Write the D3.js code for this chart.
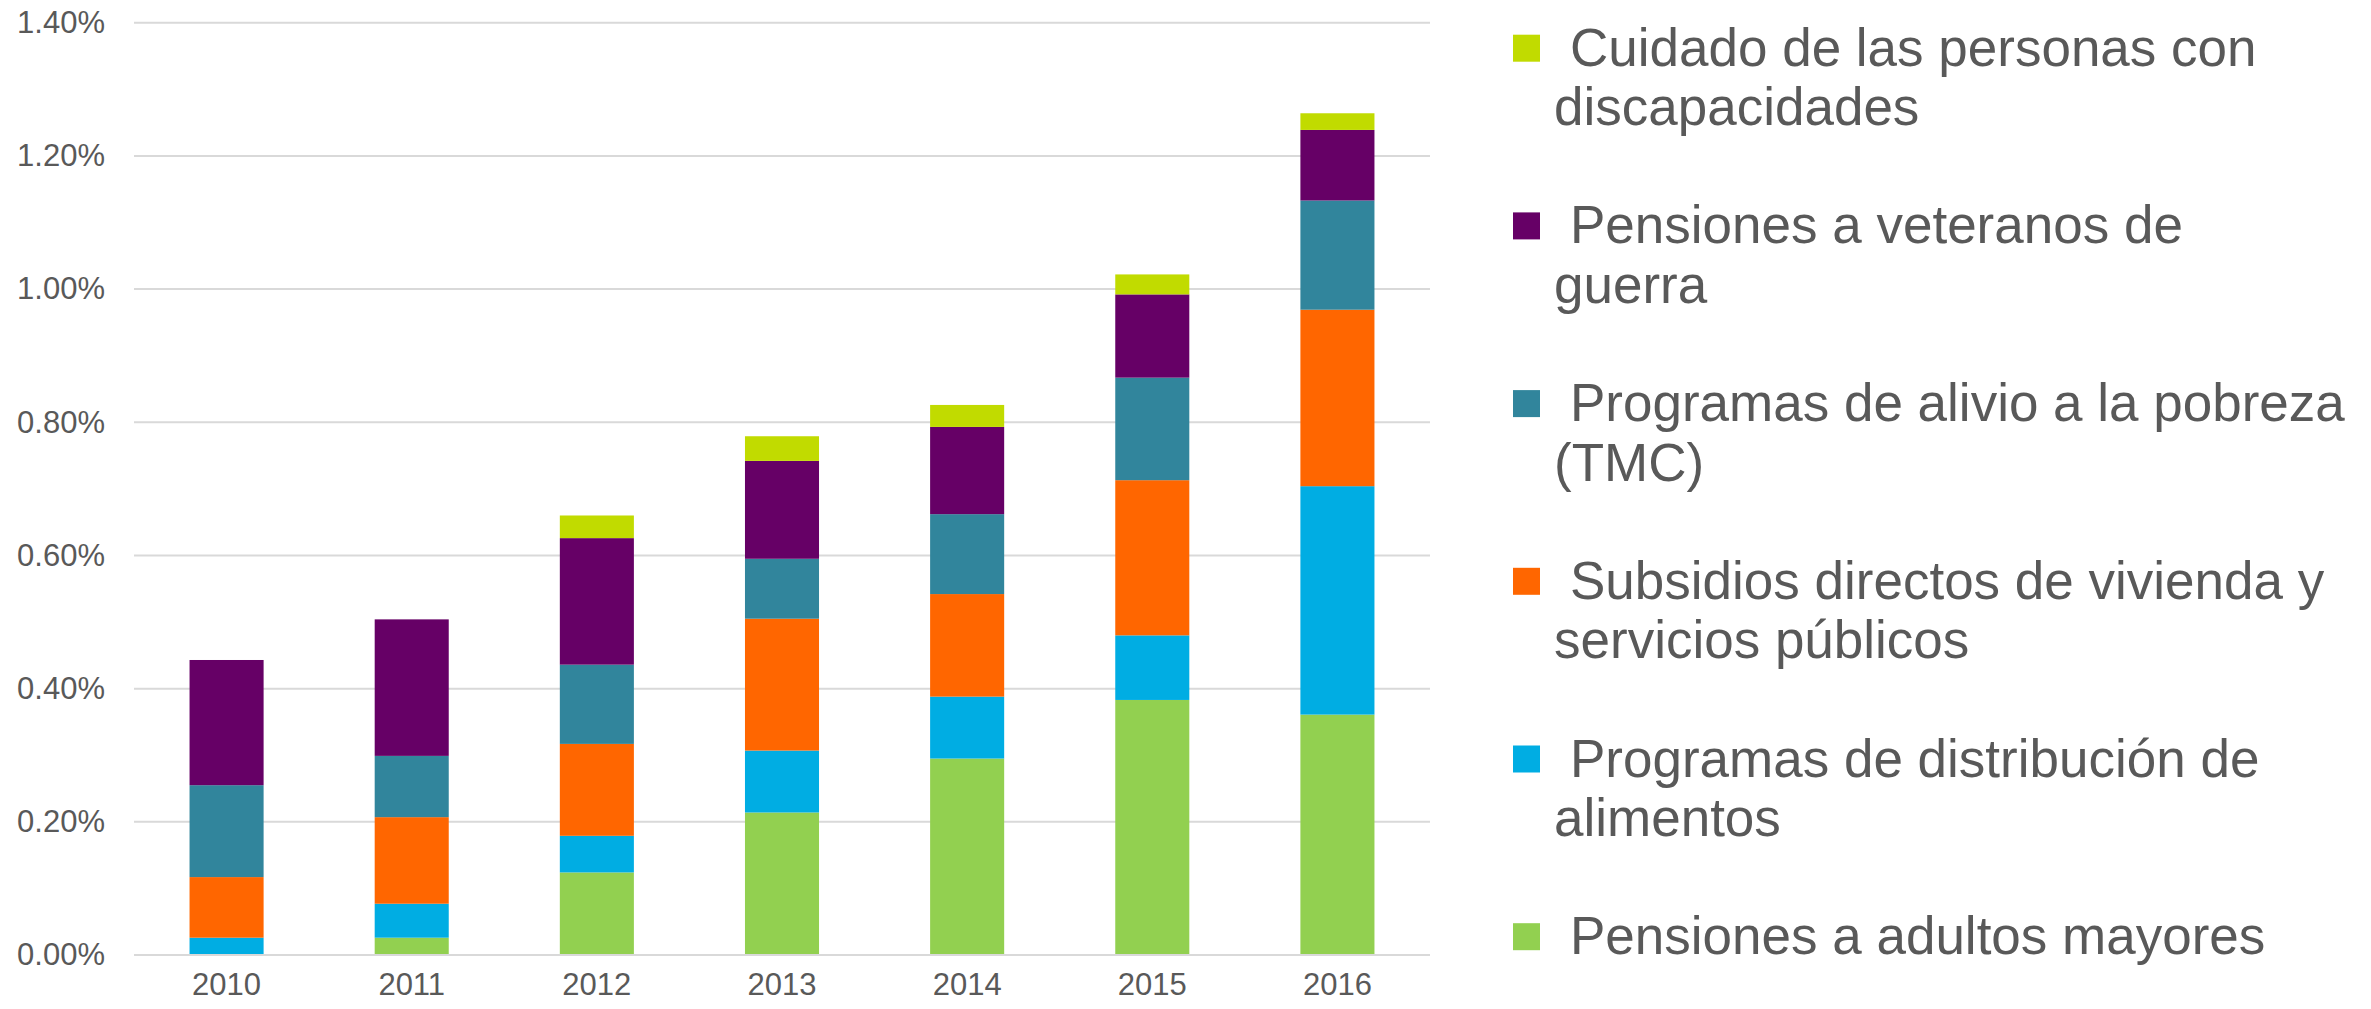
<!DOCTYPE html>
<html>
<head>
<meta charset="utf-8">
<script src="https://cdn.jsdelivr.net/npm/d3@7.9.0/dist/d3.min.js"></script>
<style>
  html, body { margin: 0; padding: 0; background: #fff; }
  svg { display: block; font-family: "Liberation Sans", Arial, sans-serif; }
</style>
</head>
<body>
<div id="chart"></div>
<script>
// data (percent of GDP)
const years = ['2010', '2011', '2012', '2013', '2014', '2015', '2016'];
const adultosMayores = [0, 0.026, 0.124, 0.214, 0.295, 0.383, 0.361];
const distribucionAlimentos = [0.026, 0.051, 0.055, 0.093, 0.093, 0.097, 0.343];
const subsidiosVivienda = [0.091, 0.130, 0.138, 0.198, 0.154, 0.233, 0.265];
const alivioPobreza = [0.138, 0.092, 0.119, 0.090, 0.120, 0.154, 0.164];
const veteranosGuerra = [0.188, 0.205, 0.190, 0.147, 0.131, 0.125, 0.106];
const discapacidades = [0, 0, 0.034, 0.037, 0.033, 0.030, 0.025];
const yTicks = [0, 0.2, 0.4, 0.6, 0.8, 1.0, 1.2, 1.4];

const series = [
  { key: 'adultos', values: adultosMayores, color: '#92D050',
    label: ['Pensiones a adultos mayores'] },
  { key: 'alimentos', values: distribucionAlimentos, color: '#00ADE3',
    label: ['Programas de distribución de', 'alimentos'] },
  { key: 'vivienda', values: subsidiosVivienda, color: '#FF6600',
    label: ['Subsidios directos de vivienda y', 'servicios públicos'] },
  { key: 'pobreza', values: alivioPobreza, color: '#31859C',
    label: ['Programas de alivio a la pobreza', '(TMC)'] },
  { key: 'veteranos', values: veteranosGuerra, color: '#660066',
    label: ['Pensiones a veteranos de', 'guerra'] },
  { key: 'discap', values: discapacidades, color: '#C1DB00',
    label: ['Cuidado de las personas con', 'discapacidades'] },
];

const table = years.map((y, i) => {
  const row = { year: y };
  series.forEach(s => { row[s.key] = s.values[i]; });
  return row;
});

const W = 2371, H = 1009;
const svg = d3.select('#chart').append('svg')
  .attr('width', W).attr('height', H);

const x = d3.scaleBand().domain(years).range([134, 1430]).paddingInner(0.6).paddingOuter(0.3);
const y = d3.scaleLinear().domain([0, 1.4]).range([955, 22.7]);

// gridlines
svg.append('g')
  .selectAll('line')
  .data(yTicks)
  .join('line')
  .attr('x1', 134).attr('x2', 1430)
  .attr('y1', d => y(d)).attr('y2', d => y(d))
  .attr('stroke', '#D9D9D9')
  .attr('stroke-width', 2);

// y axis labels
const yAxis = svg.append('g')
  .attr('transform', 'translate(105,0)')
  .call(d3.axisLeft(y).tickValues(yTicks).tickFormat(d => d.toFixed(2) + '%').tickSize(0).tickPadding(0));
yAxis.select('.domain').remove();
yAxis.selectAll('text')
  .attr('fill', '#595959')
  .style('font-size', '31px')
  .style('font-family', '"Liberation Sans", Arial, sans-serif');

// stacked bars
const stack = d3.stack().keys(series.map(s => s.key));
const layers = stack(table);

svg.append('g')
  .selectAll('g')
  .data(layers)
  .join('g')
  .attr('fill', (d, i) => series[i].color)
  .selectAll('rect')
  .data(d => d)
  .join('rect')
  .attr('x', d => x(d.data.year))
  .attr('width', x.bandwidth())
  .attr('y', d => y(d[1]))
  .attr('height', d => Math.max(0, y(d[0]) - y(d[1])));

// x axis line + labels
svg.append('line')
  .attr('x1', 134).attr('x2', 1430)
  .attr('y1', y(0)).attr('y2', y(0))
  .attr('stroke', '#D9D9D9').attr('stroke-width', 2);

const xAxis = svg.append('g')
  .attr('transform', `translate(0,${y(0)})`)
  .call(d3.axisBottom(x).tickSize(0).tickPadding(18));
xAxis.select('.domain').remove();
xAxis.selectAll('text')
  .attr('fill', '#595959')
  .style('font-size', '31px')
  .style('font-family', '"Liberation Sans", Arial, sans-serif');

// legend (top item is the last series)
const legendItems = series.slice().reverse();
const legend = svg.append('g');
const item = legend.selectAll('g')
  .data(legendItems)
  .join('g')
  .attr('transform', (d, i) => `translate(0,${65.7 + i * 177.7})`);

item.append('rect')
  .attr('x', 1513).attr('y', -31)
  .attr('width', 27).attr('height', 27)
  .attr('fill', d => d.color);

item.each(function (d) {
  const g = d3.select(this);
  d.label.forEach((line, j) => {
    g.append('text')
      .attr('x', j === 0 ? 1570 : 1554)
      .attr('y', j * 59.5)
      .attr('fill', '#595959')
      .style('font-size', '53px')
      .text(line);
  });
});
</script>
</body>
</html>
